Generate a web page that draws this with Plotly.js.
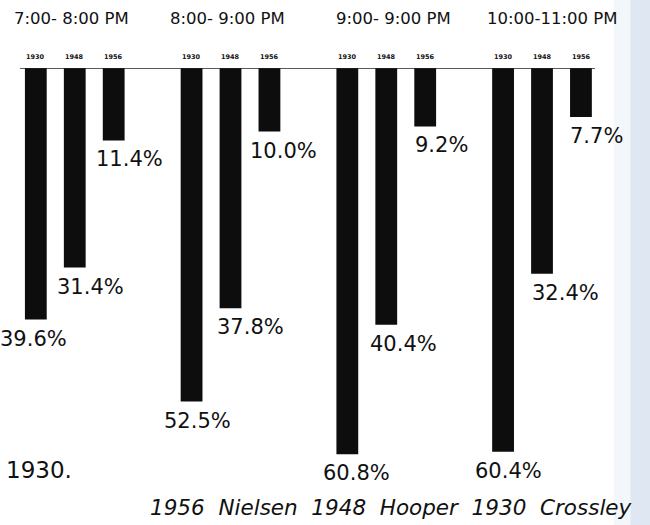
<!DOCTYPE html>
<html>
<head>
<meta charset="utf-8">
<script src="https://cdn.plot.ly/plotly-3.0.1.min.js"></script>
<style>html,body{margin:0;padding:0;background:#fff;}#chart{width:650px;height:525px;}</style>
</head>
<body>
<div id="chart"></div>
<script>
// Time slots (categories)
var timeSlots = ["7:00- 8:00 PM", "8:00- 9:00 PM", "9:00- 9:00 PM", "10:00-11:00 PM"];
// Survey years (series)
var years = ["1930", "1948", "1956"];
// Share of sets in use (%) per year, per time slot
var values1930 = [39.6, 52.5, 60.8, 60.4];
var values1948 = [31.4, 37.8, 40.4, 32.4];
var values1956 = [11.4, 10.0, 9.2, 7.7];
var seriesValues = [values1930, values1948, values1956];
var footerText = "1956  Nielsen  1948  Hooper  1930  Crossley";
var sideNote = "1930.";

var FONT = "DejaVu Sans, sans-serif";
var traces = years.map(function (yr, i) {
  return {
    type: "bar",
    name: yr,
    x: timeSlots,
    y: seriesValues[i],
    marker: { color: "#0d0d0d", line: { width: 0 } },
    hoverinfo: "skip"
  };
});

var slotOffset = [-39, 0, 39];
var labelShift = [[-2, 6, 9, 5], [16, 20, 17, 23], [16, 14, 16, 15]];
var headShift = [-3, -3, 7, 10];
var annotations = [];
years.forEach(function (yr, i) {
  timeSlots.forEach(function (slot, j) {
    annotations.push({
      x: slot, y: 0, xref: "x", yref: "y", text: "<b>" + yr + "</b>",
      showarrow: false, xshift: slotOffset[i], yshift: 11,
      font: { family: FONT, size: 6.5, color: "#111" }
    });
    annotations.push({
      x: slot, y: seriesValues[i][j], xref: "x", yref: "y",
      text: seriesValues[i][j].toFixed(1) + "%",
      showarrow: false, xshift: slotOffset[i] + labelShift[i][j], yshift: -19,
      font: { family: FONT, size: 21, color: "#111" }
    });
  });
});
timeSlots.forEach(function (slot, j) {
  annotations.push({
    x: slot, y: 0, xref: "x", yref: "y", text: slot, showarrow: false,
    xshift: headShift[j], yshift: 50, font: { family: FONT, size: 16.5, color: "#111" }
  });
});
annotations.push({
  x: 0.063, y: 0.027, xref: "paper", yref: "paper", xanchor: "center", yanchor: "middle",
  text: sideNote, showarrow: false, font: { family: FONT, size: 23, color: "#111" }
});
annotations.push({
  x: 0.628, y: -0.063, xref: "paper", yref: "paper", xanchor: "center", yanchor: "middle",
  text: footerText, showarrow: false,
  font: { family: FONT, size: 21.5, color: "#111", style: "italic" }
});

var layout = {
  width: 650, height: 525,
  margin: { l: 0, r: 27, t: 68, b: 44, pad: 0 },
  paper_bgcolor: "#ffffff", plot_bgcolor: "rgba(0,0,0,0)",
  showlegend: false,
  barmode: "group", bargap: 0.25, bargroupgap: 0.44,
  xaxis: { type: "category", range: [-0.48, 3.52], showticklabels: false,
    showgrid: false, zeroline: false, showline: false, ticks: "", fixedrange: true },
  yaxis: { range: [65, 0], showticklabels: false, showgrid: false,
    zeroline: false, showline: false, ticks: "", fixedrange: true },
  annotations: annotations,
  shapes: [
    { type: "rect", xref: "paper", yref: "paper", x0: 0.985, x1: 1.045, y0: -0.2, y1: 1.2,
      fillcolor: "#f3f6fa", line: { width: 0 }, layer: "below" },
    { type: "rect", xref: "paper", yref: "paper", x0: 1.012, x1: 1.045, y0: -0.2, y1: 1.2,
      fillcolor: "#dfe7f2", line: { width: 0 }, layer: "below" },
    { type: "line", xref: "paper", yref: "y", x0: 0.032, x1: 0.955, y0: 0, y1: 0,
      line: { color: "#222", width: 1.3 } }
  ]
};

Plotly.newPlot("chart", traces, layout, { staticPlot: true, displayModeBar: false });
</script>
</body>
</html>
